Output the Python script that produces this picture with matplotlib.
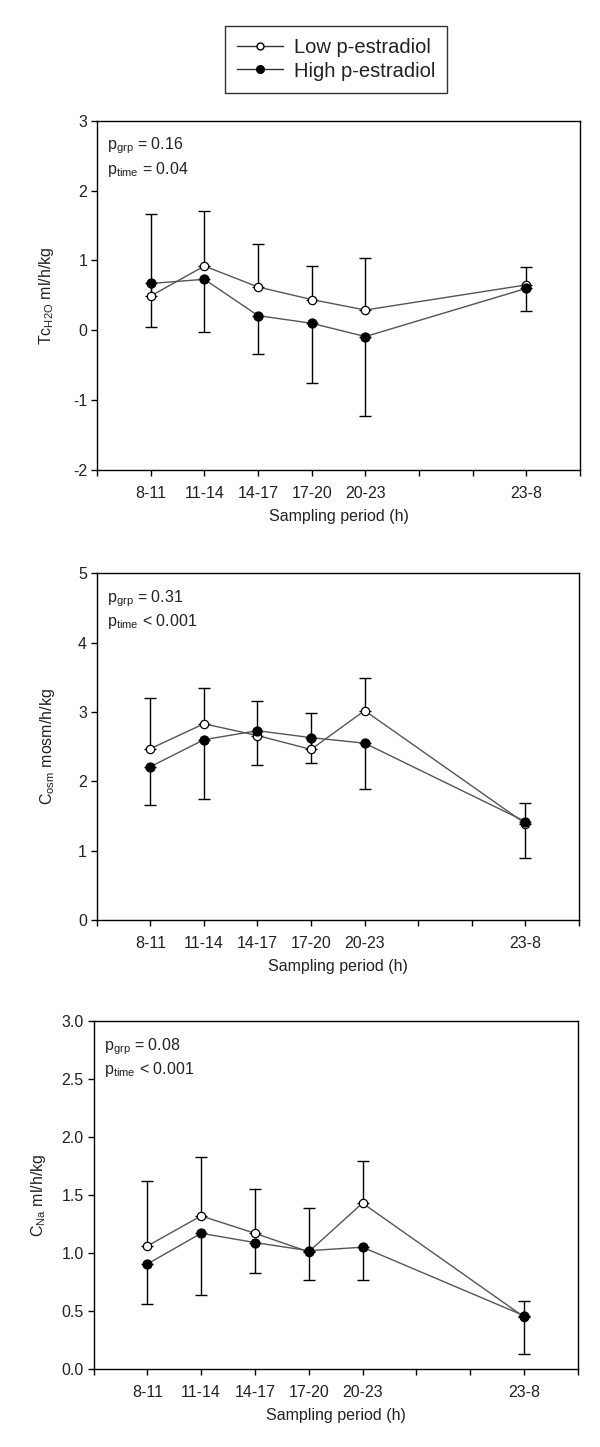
import matplotlib
matplotlib.use("Agg")
import matplotlib.pyplot as plt
from matplotlib.lines import Line2D
import numpy as np

plt.rcParams['font.family'] = ['Liberation Sans', 'DejaVu Sans']
plt.rcParams['mathtext.fontset'] = 'custom'
plt.rcParams['mathtext.rm'] = 'Liberation Sans'
plt.rcParams['mathtext.it'] = 'Liberation Sans:italic'

# ---------------- data ----------------
periods = ['8-11', '11-14', '14-17', '17-20', '20-23', '23-8']
period_pos = [1, 2, 3, 4, 5, 8]

# Panel 1: TcH2O ml/h/kg
tc_low = [0.49, 0.92, 0.62, 0.44, 0.29, 0.65]
tc_high = [0.67, 0.73, 0.21, 0.10, -0.09, 0.60]
tc_low_sd = [1.18, 0.79, 0.61, 0.48, 0.74, 0.25]
tc_high_sd = [0.63, 0.75, 0.55, 0.85, 1.13, 0.33]

# Panel 2: Cosm mosm/h/kg
cosm_low = [2.47, 2.83, 2.66, 2.46, 3.02, 1.39]
cosm_high = [2.21, 2.60, 2.73, 2.63, 2.55, 1.42]
cosm_low_sd = [0.73, 0.51, 0.50, 0.53, 0.47, 0.30]
cosm_high_sd = [0.55, 0.86, 0.50, 0.37, 0.66, 0.53]

# Panel 3: CNa ml/h/kg
cna_low = [1.06, 1.32, 1.17, 1.01, 1.43, 0.45]
cna_high = [0.905, 1.17, 1.09, 1.02, 1.05, 0.46]
cna_low_sd = [0.56, 0.51, 0.38, 0.38, 0.36, 0.14]
cna_high_sd = [0.345, 0.53, 0.26, 0.25, 0.28, 0.33]

ylabels = [r'Tc$_{\mathregular{H2O}}$ ml/h/kg',
           r'C$_{\mathregular{osm}}$ mosm/h/kg',
           r'C$_{\mathregular{Na}}$ ml/h/kg']
p_grp = ['= 0.16', '= 0.31', '= 0.08']
p_time = ['= 0.04', '< 0.001', '< 0.001']
ylims = [(-2, 3), (0, 5), (0, 3)]
yticks = [np.arange(-2, 3.01, 1), np.arange(0, 5.01, 1), np.arange(0, 3.01, 0.5)]
yfmt = ['%d', '%d', '%.1f']

W, H = 600, 1447
fig = plt.figure(figsize=(W / 100, H / 100), dpi=100)

# axes boxes in pixels: left, right, top, bottom
boxes = [(97, 580, 120.7, 470), (96.7, 579, 573.3, 920), (93.5, 577.7, 1021, 1369)]
ylab_x = [-0.085, -0.083, -0.095]

data = [(tc_low, tc_high, tc_low_sd, tc_high_sd),
        (cosm_low, cosm_high, cosm_low_sd, cosm_high_sd),
        (cna_low, cna_high, cna_low_sd, cna_high_sd)]

line_col = '#555555'
txt_col = '#222222'
fs = 11.5

for i, (l, r, t, b) in enumerate(boxes):
    ax = fig.add_axes([l / W, 1 - b / H, (r - l) / W, (b - t) / H])
    low, high, lsd, hsd = data[i]
    x = np.array(period_pos)
    # error bars: low series upper, high series lower
    ax.errorbar(x, low, yerr=[np.zeros(len(lsd)), lsd], fmt='none',
                ecolor='black', elinewidth=1, capsize=4, capthick=1, zorder=2)
    ax.errorbar(x, high, yerr=[hsd, np.zeros(len(hsd))], fmt='none',
                ecolor='black', elinewidth=1, capsize=4, capthick=1, zorder=2)
    ax.plot(x, low, '-', color=line_col, lw=1, marker='o', ms=6,
            mfc='white', mec='black', mew=0.9, zorder=3)
    ax.plot(x, high, '-', color=line_col, lw=1, marker='o', ms=6.5,
            mfc='black', mec='black', mew=0.9, zorder=4)

    ax.set_xlim(0, 9)
    ax.set_ylim(*ylims[i])
    ax.set_xticks(range(0, 10))
    ax.set_xticklabels(['' if k not in period_pos else periods[period_pos.index(k)]
                        for k in range(0, 10)])
    ax.set_yticks(yticks[i])
    ax.set_yticklabels([yfmt[i] % v for v in yticks[i]])
    ax.tick_params(axis='x', direction='out', length=4, width=1, pad=7.5,
                   labelsize=fs, labelcolor=txt_col)
    ax.tick_params(axis='y', direction='out', length=4, width=1, pad=3,
                   labelsize=fs, labelcolor=txt_col)
    for s in ax.spines.values():
        s.set_linewidth(1)
        s.set_color('black')
    ax.set_xlabel('Sampling period (h)', fontsize=fs, color=txt_col, labelpad=6)
    ax.set_ylabel(ylabels[i], fontsize=fs, color=txt_col)
    ax.yaxis.set_label_coords(ylab_x[i], 0.5)

    hpx = b - t
    ax.text(10 / (r - l), 1 - 29 / hpx, r'p$_{\mathregular{grp}}$ ' + p_grp[i],
            transform=ax.transAxes, fontsize=fs, color=txt_col, va='baseline', ha='left')
    ax.text(10 / (r - l), 1 - 53 / hpx, r'p$_{\mathregular{time}}$ ' + p_time[i],
            transform=ax.transAxes, fontsize=fs, color=txt_col, va='baseline', ha='left')

handles = [Line2D([], [], color='#333333', lw=1, marker='o', ms=5, mfc='white', mec='black'),
           Line2D([], [], color='#333333', lw=1, marker='o', ms=5.5, mfc='black', mec='black')]
leg = fig.legend(handles, ['Low p-estradiol', 'High p-estradiol'],
                 loc='center', bbox_to_anchor=(336 / W, 1 - 59.5 / H),
                 fontsize=14.5, frameon=True, fancybox=False, edgecolor='black',
                 handlelength=2.3, handletextpad=0.5, labelspacing=0.2,
                 borderpad=0.6, borderaxespad=0)
leg.get_frame().set_linewidth(1)
for t in leg.get_texts():
    t.set_color(txt_col)

fig.savefig('out.png', dpi=100)
